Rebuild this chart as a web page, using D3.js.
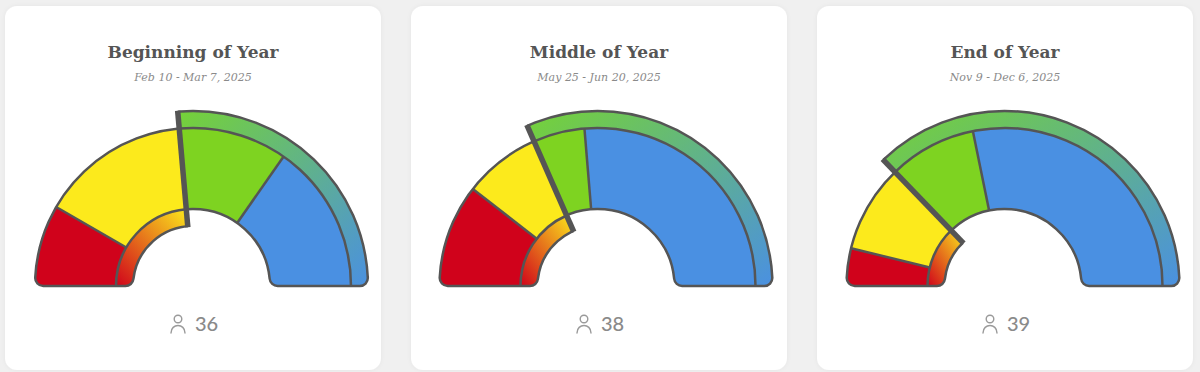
<!DOCTYPE html>
<html>
<head>
<meta charset="utf-8">
<script src="https://cdn.jsdelivr.net/npm/d3@7"></script>
<style>
  html, body { margin: 0; padding: 0; background: #f0f0f0; overflow: hidden; }
</style>
</head>
<body>
<svg id="chart" width="1200" height="372"></svg>
<script>
const titles = ["Beginning of Year", "Middle of Year", "End of Year"];
const dateRanges = ["Feb 10 - Mar 7, 2025", "May 25 - Jun 20, 2025", "Nov 9 - Dec 6, 2025"];
const red = [6, 8, 3];
const yellow = [11, 6, 7];
const green = [8, 4, 7];
const blue = [11, 20, 22];
const totals = [36, 38, 39];

const colors = { red: "#d0021b", yellow: "#fcea1c", green: "#7ed321", blue: "#4a90e2", stroke: "#555555" };

const cardX = [5, 411, 817],
  cardW = 376,
  cardY = 6,
  cardH = 364;

// gauge geometry, relative to the card
const gaugeCx = [188, 186.5, 187.5],
  gaugeCy = 280,
  holeR = 60,
  ringR = 77,
  bandR = 158,
  topR = 175;

const svg = d3.select("#chart");
const defs = svg.append("defs");

const shadow = defs
  .append("filter")
  .attr("id", "cardShadow")
  .attr("x", "-5%")
  .attr("y", "-5%")
  .attr("width", "110%")
  .attr("height", "110%");
shadow
  .append("feDropShadow")
  .attr("dx", 0)
  .attr("dy", 0)
  .attr("stdDeviation", 2)
  .attr("flood-color", "#000")
  .attr("flood-opacity", 0.05);

const deg = Math.PI / 180;
const arc = d3.arc().cornerRadius((d) => d.cornerRadius || 0);
const band = (r0, r1, a0, a1, corner) =>
  arc({ innerRadius: r0, outerRadius: r1, startAngle: a0, endAngle: a1, cornerRadius: corner });
const polar = (r, a) => [r * Math.sin(a), -r * Math.cos(a)];

// open arc, for the lines between the bands
const lineArc = (r, a0, a1) => {
  const p = d3.path();
  p.arc(0, 0, r, a0 - Math.PI / 2, a1 - Math.PI / 2);
  return p.toString();
};

titles.forEach((title, i) => {
  const card = svg.append("g").attr("transform", `translate(${cardX[i]},${cardY})`);

  card
    .append("rect")
    .attr("width", cardW)
    .attr("height", cardH)
    .attr("rx", 12)
    .attr("fill", "#fff")
    .attr("filter", "url(#cardShadow)");

  card
    .append("text")
    .attr("x", cardW / 2)
    .attr("y", 52)
    .attr("text-anchor", "middle")
    .attr("font-family", "'DejaVu Serif'")
    .attr("font-weight", "bold")
    .attr("font-size", 17)
    .attr("fill", "#555")
    .text(title);

  card
    .append("text")
    .attr("x", cardW / 2)
    .attr("y", 75)
    .attr("text-anchor", "middle")
    .attr("font-family", "'DejaVu Serif'")
    .attr("font-style", "italic")
    .attr("font-size", 11)
    .attr("fill", "#8a8a8a")
    .text(dateRanges[i]);

  // values run round the half circle, left to right
  const angle = d3.scaleLinear().domain([0, totals[i]]).range([-90 * deg, 90 * deg]);
  const redEnd = red[i],
    yellowEnd = redEnd + yellow[i],
    greenEnd = yellowEnd + green[i],
    blueEnd = greenEnd + blue[i];
  const needle = angle(yellowEnd);

  const g = card.append("g").attr("transform", `translate(${gaugeCx[i]},${gaugeCy})`);

  // gradients are per panel as the ring lengths change
  const topGrad = defs
    .append("linearGradient")
    .attr("id", `topGrad${i}`)
    .attr("x1", 0)
    .attr("y1", 0)
    .attr("x2", 1)
    .attr("y2", 1);
  topGrad.append("stop").attr("offset", 0).attr("stop-color", "#76d335");
  topGrad.append("stop").attr("offset", 1).attr("stop-color", "#4a90e2");

  const ringGrad = defs
    .append("linearGradient")
    .attr("id", `ringGrad${i}`)
    .attr("x1", 0)
    .attr("y1", 1)
    .attr("x2", 1)
    .attr("y2", 0);
  ringGrad.append("stop").attr("offset", 0).attr("stop-color", colors.red);
  ringGrad.append("stop").attr("offset", 1).attr("stop-color", colors.yellow);

  defs
    .append("clipPath")
    .attr("id", `leftClip${i}`)
    .append("path")
    .attr("d", band(0, 320, -100 * deg, needle));
  defs
    .append("clipPath")
    .attr("id", `rightClip${i}`)
    .append("path")
    .attr("d", band(0, 320, needle, 100 * deg));
  defs
    .append("clipPath")
    .attr("id", `leftShape${i}`)
    .append("path")
    .attr("d", band(holeR, bandR, -90 * deg, 90 * deg, 8));
  defs
    .append("clipPath")
    .attr("id", `rightShape${i}`)
    .append("path")
    .attr("d", band(ringR, topR, -90 * deg, 90 * deg, 8));

  // left of the needle: red, yellow and the inner ring
  const left = g.append("g").attr("clip-path", `url(#leftClip${i})`);
  const leftFill = left.append("g").attr("clip-path", `url(#leftShape${i})`);
  leftFill.append("path").attr("d", band(ringR, bandR + 2, angle(0), angle(redEnd))).attr("fill", colors.red);
  leftFill.append("path").attr("d", band(ringR, bandR + 2, angle(redEnd), needle)).attr("fill", colors.yellow);
  leftFill
    .append("path")
    .attr("d", band(holeR - 2, ringR, angle(0), needle))
    .attr("fill", `url(#ringGrad${i})`);

  // right of the needle: green, blue and the top ring
  const right = g.append("g").attr("clip-path", `url(#rightClip${i})`);
  const rightFill = right.append("g").attr("clip-path", `url(#rightShape${i})`);
  rightFill.append("path").attr("d", band(ringR - 2, bandR, needle, angle(greenEnd))).attr("fill", colors.green);
  rightFill.append("path").attr("d", band(ringR - 2, bandR, angle(greenEnd), angle(blueEnd))).attr("fill", colors.blue);
  rightFill
    .append("path")
    .attr("d", band(bandR, topR + 2, needle, angle(blueEnd)))
    .attr("fill", `url(#topGrad${i})`);

  const style = (sel) =>
    sel.attr("fill", "none").attr("stroke", colors.stroke).attr("stroke-width", 2.5);

  style(left.append("path").attr("d", band(holeR, bandR, -90 * deg, 90 * deg, 8)));
  style(right.append("path").attr("d", band(ringR, topR, -90 * deg, 90 * deg, 8)));
  style(left.append("path").attr("d", lineArc(ringR, -90 * deg, needle)));
  style(right.append("path").attr("d", lineArc(bandR, needle, 90 * deg)));

  // dividers between the segments
  [angle(redEnd), angle(greenEnd)].forEach((a) => {
    const p0 = polar(ringR, a),
      p1 = polar(bandR, a);
    style(g.append("line").attr("x1", p0[0]).attr("y1", p0[1]).attr("x2", p1[0]).attr("y2", p1[1]));
  });

  const n0 = polar(holeR - 1, needle),
    n1 = polar(topR + 1, needle);
  g.append("line")
    .attr("x1", n0[0])
    .attr("y1", n0[1])
    .attr("x2", n1[0])
    .attr("y2", n1[1])
    .attr("stroke", colors.stroke)
    .attr("stroke-width", 5.5);

  // participant count
  const person = card.append("g").attr("transform", `translate(173,318)`);
  person.append("circle").attr("cy", -5).attr("r", 3.8).attr("fill", "none").attr("stroke", "#9a9a9a").attr("stroke-width", 1.4);
  person
    .append("path")
    .attr("d", "M-7,9 C-7,-1 7,-1 7,9")
    .attr("fill", "none")
    .attr("stroke", "#9a9a9a")
    .attr("stroke-width", 1.4)
    .attr("stroke-linecap", "round");

  card
    .append("text")
    .attr("x", 190)
    .attr("y", 325)
    .attr("font-family", "Lato")
    .attr("font-weight", 500)
    .attr("font-size", 20)
    .attr("fill", "#8a8a8a")
    .text(totals[i]);
});
</script>
</body>
</html>
